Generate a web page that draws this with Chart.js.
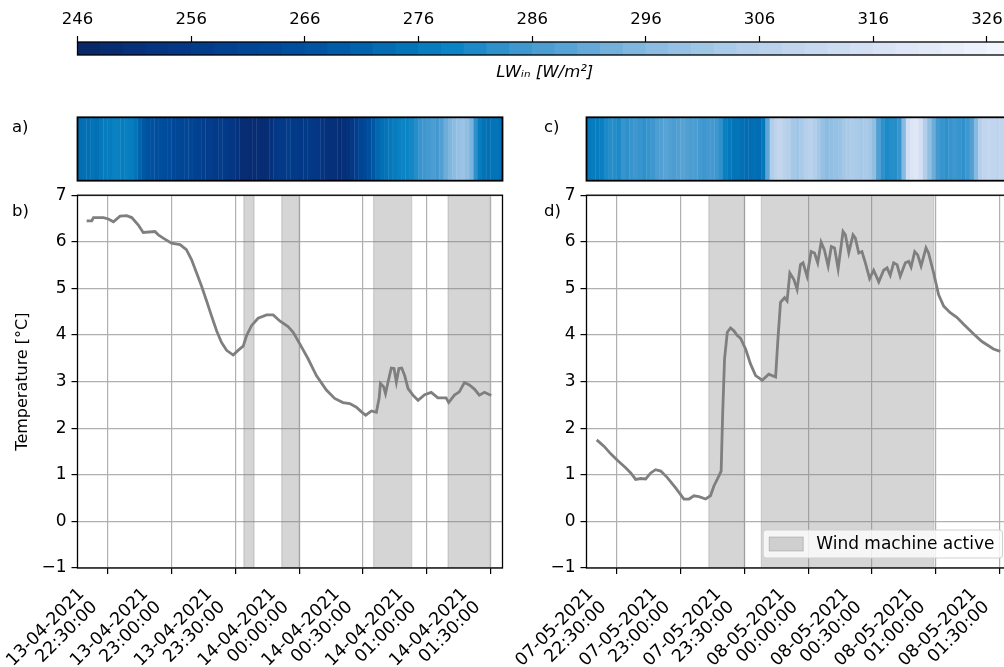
<!DOCTYPE html>
<html><head><meta charset="utf-8">
<script src="https://cdn.jsdelivr.net/npm/chart.js@4/dist/chart.umd.min.js"></script>
<style>
html,body{margin:0;padding:0;background:#fff;overflow:hidden;width:1004px;height:667px;position:relative;}
canvas{position:absolute;}
.lbl{position:absolute;font-family:"DejaVu Sans";font-size:16.5px;line-height:16.5px;color:#000;white-space:nowrap;}
</style></head><body>
<canvas id="cbar" width="1040" height="100" style="left:0;top:0"></canvas>
<canvas id="hmA" width="520" height="100" style="left:0;top:100px"></canvas>
<canvas id="hmC" width="520" height="100" style="left:509px;top:100px"></canvas>
<canvas id="plotB" width="520" height="487" style="left:0;top:180px"></canvas>
<canvas id="plotD" width="520" height="487" style="left:509px;top:180px"></canvas>
<div class="lbl" style="left:12px;top:119px">a)</div>
<div class="lbl" style="left:12px;top:203px">b)</div>
<div class="lbl" style="left:544px;top:119px">c)</div>
<div class="lbl" style="left:544px;top:203px">d)</div>
<script>
// ---------------- DATA ----------------
// time axis: minutes after 22:00 of the first night
const colorbarTicks = [246, 256, 266, 276, 286, 296, 306, 316, 326];
const colorbarMin = 246, colorbarMax = 328.2;
const colorbarLabel = 'LWᵢₙ [W/m²]';

const xTickMinutes = [30, 60, 90, 120, 150, 180, 210];
const xTickLabelsB = [['13-04-2021','22:30:00'],['13-04-2021','23:00:00'],['13-04-2021','23:30:00'],['14-04-2021','00:00:00'],['14-04-2021','00:30:00'],['14-04-2021','01:00:00'],['14-04-2021','01:30:00']];
const xTickLabelsD = [['07-05-2021','22:30:00'],['07-05-2021','23:00:00'],['07-05-2021','23:30:00'],['08-05-2021','00:00:00'],['08-05-2021','00:30:00'],['08-05-2021','01:00:00'],['08-05-2021','01:30:00']];
const yTicks = [-1, 0, 1, 2, 3, 4, 5, 6, 7];
const yTitle = 'Temperature [°C]';
const bandLabel = 'Wind machine active';

// incoming longwave radiation, 2-minute cells starting at minute 16
const lwCellStart = 16, lwCellStep = 2;
const lwA = [273,274,274,275,274,276,277, 277,278,278,277,278,277,275, 271,268,266,266,265,265,264,264,
  262,262,261,262,261,260,259, 258,257,257,256,257,256,255,254, 252,250,250,249,249,250,249,250,252,
  255,256,256,257,256,256,255,256,256,255,254,253, 252,251,251,250,251,252,254, 258,261,263,265,268,
  272,274,275,276,277, 278,279,279,280,282, 284,285,286,287,286,288, 292,295,297,299,300,298,294,
  283,277,275,274,275,275,274];
const lwC = [276,277,277,278, 281,282,282,281, 284,283,284,285,284,283,284,285, 287,288,289,288,287,288,289,288,287,
  287,286,285,286,286,285,283, 278,276,275,275,274,273,273,274,273,276, 290,305, 308,309,307,306, 302,301,303,
  306,307,305,302,299, 297,298,299,300,302, 303,304,303,302,303,302,298, 288,283,281,282,282,284,296,
  314,318,319,315, 305,298,292, 286,284,283,284,285,284,283,285,288,296, 306,309,310,309,308,309,310,309];

// temperature series
const timeB = [20.1,22.5,23.3,28,30.3,32.7,35.8,38.9,41.3,44.4,46.7,52.2,53.8,56.1,60,64,67,69.4,71.8,74.1,76.5,78.8,81.2,83.5,85.9,89,91.3,93.7,95.3,97.6,100.7,104.7,107.8,110.9,114.8,117.2,120.3,124.2,128.1,132.8,136.7,140.6,143.8,146.9,149.3,151.3,154,156.3,157.6,158.2,159.7,160.6,161.8,163.3,164.6,165.7,166.9,168.2,169.6,171.2,173.5,175.9,179,182.1,185.2,189.1,190.3,193,195.3,197.7,200,202.4,204.7,207.1,210.3];
const tempB = [6.45,6.45,6.52,6.52,6.49,6.43,6.55,6.56,6.52,6.36,6.2,6.22,6.15,6.08,5.97,5.94,5.83,5.62,5.33,5.05,4.73,4.41,4.09,3.84,3.67,3.57,3.67,3.76,3.99,4.2,4.36,4.43,4.43,4.3,4.18,4.06,3.81,3.49,3.13,2.82,2.64,2.55,2.53,2.45,2.35,2.28,2.37,2.34,2.64,2.96,2.89,2.74,2.99,3.29,3.28,2.99,3.28,3.29,3.13,2.85,2.71,2.6,2.72,2.77,2.65,2.65,2.55,2.71,2.78,2.98,2.93,2.84,2.71,2.77,2.7];
const timeD = [20.6,24.1,27.2,30.3,34.2,36.6,38.9,41.3,43.6,46,48.3,50.7,53.8,57.7,61.6,64,66.3,68.7,71.8,74.1,75.7,78,79.1,79.8,80.7,82,83.5,85.1,86.7,88.2,90.6,92.9,95.3,98.4,101.5,104.7,105.7,107,108.9,110.1,111.4,113.3,114.8,116.4,117.6,119.5,121.4,123,124.5,126.1,127.6,129.4,130.9,132.4,134.1,136.4,137.5,139.1,141.1,142.2,143.8,145.3,146.9,148.9,150.8,153.2,155.5,157.1,158.6,160.2,161.8,163.3,165.7,167.3,168.4,170.1,171.5,173.1,175.4,176.6,179,181.3,183.7,186.8,189.9,193.1,197.8,201.7,204.8,207.1,210.3];
const tempD = [1.75,1.61,1.45,1.31,1.15,1.04,0.9,0.92,0.91,1.04,1.11,1.08,0.94,0.72,0.48,0.48,0.55,0.53,0.48,0.55,0.76,0.97,1.08,2.29,3.49,4.06,4.15,4.09,3.99,3.93,3.7,3.38,3.13,3.03,3.16,3.1,3.84,4.7,4.8,4.73,5.33,5.19,4.98,5.51,5.55,5.26,5.79,5.76,5.55,5.99,5.83,5.48,5.9,5.87,5.42,6.22,6.15,5.77,6.15,6.08,5.76,5.79,5.55,5.21,5.39,5.14,5.39,5.44,5.28,5.55,5.51,5.26,5.55,5.58,5.46,5.79,5.72,5.48,5.87,5.76,5.33,4.87,4.62,4.48,4.38,4.23,4.02,3.86,3.77,3.7,3.65];

// wind machine active periods [start, end] in minutes
const bandsB = [[94, 98.8], [111.8, 120], [155, 172.9], [190, 209.5]];
const bandsD = [[73.3, 90], [98, 179.1]];

// ---------------- STYLE ----------------
const FONT = '"DejaVu Sans"';
const FS = 16.5;
const X_MIN = 15.8, X_MAX = 215.6;
const cmapStops = [[246,[10,38,100]],[252,[5,50,125]],[258,[2,62,142]],[264,[0,75,155]],[270,[0,95,170]],
  [276,[5,120,188]],[279,[10,132,196]],[284,[55,148,205]],[290,[95,166,214]],[296,[135,186,224]],
  [302,[165,200,231]],[308,[190,212,237]],[316,[214,226,244]],[322,[228,236,249]],[328.2,[244,247,253]]];
function cmap(v){
  if (v <= cmapStops[0][0]) return 'rgb(' + cmapStops[0][1].join(',') + ')';
  for (let i = 1; i < cmapStops.length; i++){
    if (v <= cmapStops[i][0]){
      const [a, ca] = cmapStops[i-1], [b, cb] = cmapStops[i];
      const f = (v - a) / (b - a);
      return 'rgb(' + ca.map((c, k) => Math.round(c + (cb[k] - c) * f)).join(',') + ')';
    }
  }
  return 'rgb(' + cmapStops[cmapStops.length-1][1].join(',') + ')';
}

const frame = {
  id: 'frame',
  afterDatasetsDraw(chart, args, o){
    const {ctx, chartArea: a} = chart;
    ctx.save();
    ctx.strokeStyle = '#000';
    ctx.lineWidth = o.width || 1.3;
    ctx.strokeRect(a.left, a.top, a.right - a.left, a.bottom - a.top);
    ctx.restore();
  }
};

const boxLegend = {
  id: 'boxLegend',
  afterDraw(chart, args, o){
    if (!o || !o.text) return;
    const {ctx, chartArea: a} = chart;
    ctx.save();
    ctx.font = '17px ' + FONT;
    const tw = ctx.measureText(o.text).width;
    const w = 53 + tw + 8, h = 28;
    const x = a.right - 9 - w, y = a.bottom - 10 - h;
    ctx.beginPath();
    ctx.roundRect(x, y, w, h, 3);
    ctx.fillStyle = 'rgba(255,255,255,0.8)';
    ctx.fill();
    ctx.strokeStyle = '#d0d0d0';
    ctx.lineWidth = 1;
    ctx.stroke();
    ctx.fillStyle = o.fill;
    ctx.fillRect(x + 6, y + 7, 34, 14);
    ctx.strokeStyle = o.fill;
    ctx.lineWidth = 1.2;
    ctx.strokeRect(x + 6, y + 7, 34, 14);
    ctx.fillStyle = '#000';
    ctx.textBaseline = 'middle';
    ctx.textAlign = 'left';
    ctx.fillText(o.text, x + 53, y + h / 2 + 1);
    ctx.restore();
  }
};

const baseOpts = {responsive: false, animation: false, events: [],
  plugins: {legend: {display: false}, tooltip: {enabled: false}}};

// ---------------- COLORBAR ----------------
const cbCells = [];
for (let v = colorbarMin + 1; v < colorbarMax + 2; v += 2) cbCells.push(v);
new Chart(document.getElementById('cbar'), {
  type: 'bar',
  data: {datasets: [{data: cbCells.map(v => ({x: v, y: 1})), backgroundColor: cbCells.map(cmap),
    barPercentage: 1.04, categoryPercentage: 1, borderWidth: 0}]},
  options: Object.assign({}, baseOpts, {
    layout: {padding: {left: 77.5, right: 1040 - 1012, top: 0, bottom: 100 - 55 - 28}},
    plugins: Object.assign({}, baseOpts.plugins, {frame: {width: 1.3}}),
    scales: {
      x: {type: 'linear', position: 'top', min: colorbarMin, max: colorbarMax, offset: false,
        afterBuildTicks: s => { s.ticks = colorbarTicks.map(v => ({value: v})); },
        afterFit: s => { s.height = 42; s.paddingLeft = 0; s.paddingRight = 0; },
        grid: {drawOnChartArea: false, tickLength: 6, tickColor: '#000', tickWidth: 1.2, offset: false},
        border: {display: false},
        ticks: {color: '#000', font: {family: FONT, size: FS}, padding: 6, maxRotation: 0, autoSkip: false,
          callback: v => String(v)}},
      x2: {type: 'linear', position: 'bottom', min: colorbarMin, max: colorbarMax, offset: false,
        afterFit: s => { s.height = 28; s.paddingLeft = 0; s.paddingRight = 0; },
        ticks: {display: false}, grid: {display: false}, border: {display: false},
        title: {display: true, text: colorbarLabel, color: '#000', padding: {top: 0, bottom: 0},
          font: {family: FONT, size: FS, style: 'italic'}}},
      y: {display: false, min: 0, max: 1}
    }
  }),
  plugins: [frame]
});

// ---------------- HEATMAP STRIPS ----------------
function heatmap(id, lw){
  const pts = lw.map((v, i) => ({x: lwCellStart + lwCellStep * (i + 0.5), y: 1}));
  new Chart(document.getElementById(id), {
    type: 'bar',
    data: {datasets: [{data: pts, backgroundColor: lw.map(cmap), barPercentage: 1.08, categoryPercentage: 1, borderWidth: 0}]},
    options: Object.assign({}, baseOpts, {
      layout: {padding: {left: 77.5, right: 17.5, top: 17.3, bottom: 19.3}},
      plugins: Object.assign({}, baseOpts.plugins, {frame: {width: 1.8}}),
      scales: {
        x: {type: 'linear', display: false, min: X_MIN, max: X_MAX, offset: false},
        y: {display: false, min: 0, max: 1}
      }
    }),
    plugins: [frame]
  });
}
heatmap('hmA', lwA);
heatmap('hmC', lwC);

// ---------------- TEMPERATURE PLOTS ----------------
const BAND_FILL = 'rgba(128,128,128,0.33)';
function tempPlot(id, times, temps, bands, xLabels, showTitle, legendText){
  const datasets = [{
    type: 'line', label: 'T', data: times.map((t, i) => ({x: t, y: temps[i]})),
    borderColor: '#7f7f7f', borderWidth: 2.8, pointRadius: 0, fill: false, tension: 0, order: 0
  }];
  bands.forEach((b, i) => datasets.push({
    type: 'line', label: i === 0 ? bandLabel : '',
    data: [{x: b[0], y: -1}, {x: b[0], y: 7}, {x: b[1], y: 7}, {x: b[1], y: -1}],
    borderColor: BAND_FILL, borderWidth: 1.2, backgroundColor: BAND_FILL,
    fill: {value: -1}, pointRadius: 0, tension: 0, order: 1
  }));
  new Chart(document.getElementById(id), {
    type: 'line',
    data: {datasets},
    options: Object.assign({}, baseOpts, {
      layout: {padding: {left: 0, right: 17.5, top: 11.7, bottom: 0}},
      plugins: Object.assign({}, baseOpts.plugins, {frame: {width: 1.3},
        boxLegend: legendText ? {text: legendText, fill: BAND_FILL} : {}}),
      scales: {
        x: {type: 'linear', position: 'bottom', min: X_MIN, max: X_MAX,
          afterBuildTicks: s => { s.ticks = xTickMinutes.map(v => ({value: v})); },
          afterFit: s => { s.height = 99; s.paddingLeft = 0; s.paddingRight = 0; },
          grid: {color: '#b0b0b0', lineWidth: 1.2, tickLength: 6, tickColor: '#000', tickWidth: 1.2},
          border: {display: false},
          ticks: {color: '#000', font: {family: FONT, size: 17.5, lineHeight: 1.05}, padding: 11,
            minRotation: 45, maxRotation: 45, autoSkip: false, labelOffset: -26,
            callback: (v, i) => xLabels[i]}},
        y: {type: 'linear', position: 'left', min: -1, max: 7,
          afterBuildTicks: s => { s.ticks = yTicks.map(v => ({value: v})); },
          afterFit: s => { s.width = 77.5; },
          grid: {color: '#b0b0b0', lineWidth: 1.2, tickLength: 6, tickColor: '#000', tickWidth: 1.2},
          border: {display: false},
          ticks: {color: '#000', font: {family: FONT, size: 17}, padding: 5,
            callback: v => (v < 0 ? '\u2212' + Math.abs(v) : String(v))},
          title: {display: showTitle, text: yTitle, color: '#000', padding: {top: 13, bottom: 0},
            font: {family: FONT, size: 16}}}
      }
    }),
    plugins: [frame, boxLegend]
  });
}
tempPlot('plotB', timeB, tempB, bandsB, xTickLabelsB, true, null);
tempPlot('plotD', timeD, tempD, bandsD, xTickLabelsD, false, bandLabel);
</script>
</body></html>
